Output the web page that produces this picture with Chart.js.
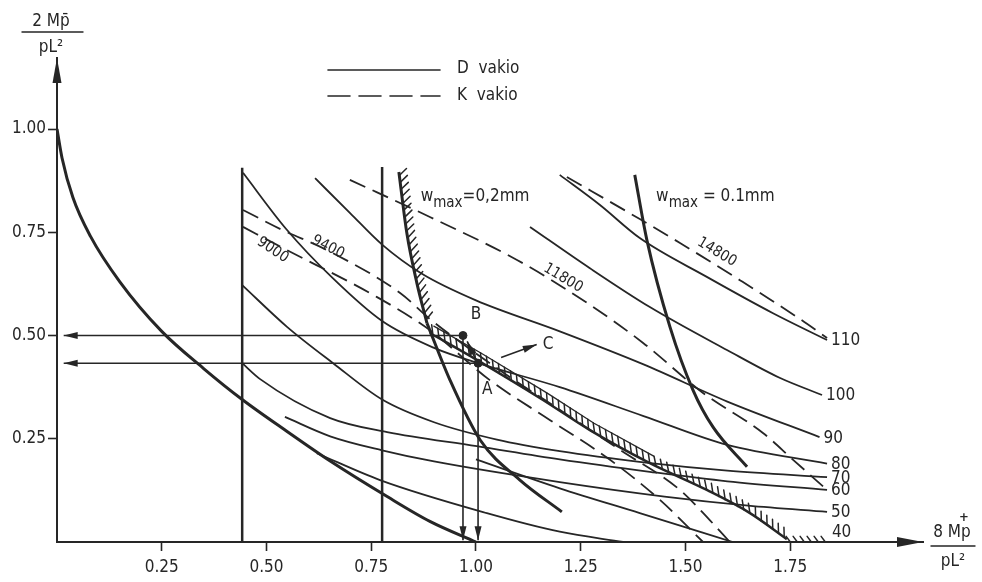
<!DOCTYPE html>
<html>
<head>
<meta charset="utf-8">
<script src="https://cdn.jsdelivr.net/npm/chart.js@4.4.1/dist/chart.umd.min.js"></script>
<style>
  html, body { margin: 0; padding: 0; background: #fff; }
</style>
</head>
<body>
<canvas id="chart" width="982" height="582"></canvas>
<script>
// ---- values (x = 8Mp+/pL2, y = 2Mp-/pL2) ----
const xTicks = [0.25, 0.50, 0.75, 1.00, 1.25, 1.50, 1.75];
const yTicks = [0.25, 0.50, 0.75, 1.00];

// heavy limit curve from 1.00 on the y axis to 1.00 on the x axis
const baseCurve = [[0, 1.0], [0.012, 0.93], [0.038, 0.834], [0.08, 0.74], [0.15, 0.63], [0.25, 0.51],
  [0.35, 0.42], [0.442, 0.345], [0.55, 0.267], [0.652, 0.196], [0.788, 0.11], [0.89, 0.05], [1.0, 0]];

// vertical limits
const limitLeft = [[0.442, 0], [0.442, 0.906]];
const limitRight = [[0.776, 0], [0.776, 0.908]];

// crack width limits
const w02Upper = [[0.816, 0.896], [0.835, 0.748], [0.859, 0.627], [0.883, 0.53]];
const w02Lower = [[0.883, 0.53], [0.938, 0.392], [1.01, 0.247], [1.105, 0.15], [1.205, 0.073]];
const w01 = [[1.379, 0.889], [1.408, 0.731], [1.463, 0.521], [1.518, 0.368], [1.566, 0.278], [1.647, 0.182]];

// hatched feasible band
const band = [[0.89, 0.506], [1.002, 0.441], [1.16, 0.344], [1.272, 0.271], [1.415, 0.191], [1.551, 0.126],
  [1.654, 0.07], [1.742, 0.007]];
const axisBand = [[1.742, 0.0], [1.84, 0.0]];

// D vakio (solid)
const d110 = [[1.2, 0.889], [1.296, 0.816], [1.391, 0.736], [1.551, 0.642], [1.709, 0.554], [1.838, 0.489]];
const d100 = [[1.129, 0.763], [1.272, 0.663], [1.415, 0.569], [1.599, 0.465], [1.726, 0.397], [1.826, 0.356]];
const d90 = [[0.616, 0.881], [0.699, 0.797], [0.776, 0.72], [0.87, 0.65], [1.0, 0.585], [1.2, 0.51],
  [1.4, 0.43], [1.6, 0.34], [1.82, 0.254]];
const d80 = [[0.444, 0.894], [0.547, 0.758], [0.657, 0.64], [0.776, 0.535], [0.9, 0.47], [1.005, 0.433],
  [1.2, 0.375], [1.4, 0.305], [1.6, 0.235], [1.838, 0.19]];
const d70 = [[0.442, 0.622], [0.549, 0.521], [0.659, 0.433], [0.776, 0.345], [0.9, 0.29], [1.05, 0.248],
  [1.2, 0.22], [1.4, 0.193], [1.6, 0.173], [1.838, 0.157]];
const d60 = [[0.442, 0.433], [0.484, 0.395], [0.652, 0.3], [0.788, 0.266], [1.002, 0.232], [1.2, 0.2],
  [1.415, 0.17], [1.6, 0.147], [1.838, 0.126]];
const d50 = [[0.544, 0.303], [0.652, 0.256], [0.776, 0.222], [0.9, 0.195], [1.2, 0.145], [1.45, 0.11],
  [1.65, 0.088], [1.838, 0.073]];
const dLow1 = [[0.62, 0.215], [0.771, 0.15], [1.026, 0.07], [1.2, 0.025], [1.351, 0]];
const dLow2 = [[1.0, 0.20], [1.2, 0.13], [1.391, 0.07], [1.613, 0]];
const dLabels = ['110', '100', '90', '80', '70', '60', '50'];

// K vakio (dashed)
const k9000 = [[0.444, 0.763], [0.539, 0.712], [0.764, 0.593], [0.89, 0.513], [1.033, 0.392], [1.177, 0.295],
  [1.32, 0.199], [1.439, 0.102], [1.542, 0]];
const k9400 = [[0.444, 0.804], [0.539, 0.755], [0.644, 0.707], [0.819, 0.603], [0.89, 0.54], [1.057, 0.416],
  [1.2, 0.32], [1.344, 0.223], [1.487, 0.126], [1.558, 0.053], [1.606, 0]];
const k11800 = [[0.699, 0.877], [0.89, 0.787], [1.098, 0.683], [1.265, 0.579], [1.399, 0.482], [1.542, 0.361],
  [1.685, 0.264], [1.757, 0.199], [1.838, 0.126]];
const k14800 = [[1.217, 0.884], [1.391, 0.782], [1.487, 0.724], [1.63, 0.634], [1.766, 0.545], [1.838, 0.494]];
const kLabels = ['9000', '9400', '11800', '14800'];

// design points
const pointB = [0.969, 0.50];
const pointA = [1.005, 0.433];

// ---- drawing ----
const ink = '#262626';
const font = '"Liberation Sans Narrow", "DejaVu Sans Condensed", sans-serif';

function curve(pts, width, extra) {
  return Object.assign({
    data: pts.map(([x, y]) => ({ x, y })),
    showLine: true,
    borderColor: ink,
    backgroundColor: ink,
    borderWidth: width,
    pointRadius: 0,
    cubicInterpolationMode: 'monotone',
    fill: false
  }, extra || {});
}
function straight(pts, width, extra) {
  return curve(pts, width, Object.assign({ cubicInterpolationMode: 'default', tension: 0 }, extra || {}));
}
const dash = [17, 8];

const datasets = [
  curve(baseCurve, 3),
  straight(limitLeft, 2.5),
  straight(limitRight, 2.5),
  curve(w02Upper, 3, { hatch: { len: 10, step: 7 } }),
  curve(w02Lower, 3),
  curve(w01, 3),
  curve(band, 2.5, { hatch: { len: 10, step: 7, edgeTo: 1.415 } }),
  straight(axisBand, 1.5, { hatch: { len: 7, step: 7 } }),
  curve(d110, 1.8, { dLabel: 0 }),
  curve(d100, 1.8, { dLabel: 1 }),
  curve(d90, 1.8, { dLabel: 2 }),
  curve(d80, 1.8, { dLabel: 3 }),
  curve(d70, 1.8, { dLabel: 4 }),
  curve(d60, 1.8, { dLabel: 5 }),
  curve(d50, 1.8, { dLabel: 6 }),
  curve(dLow1, 1.8),
  curve(dLow2, 1.8),
  curve(k9000, 1.8, { borderDash: dash }),
  curve(k9400, 1.8, { borderDash: dash }),
  curve(k11800, 1.8, { borderDash: dash }),
  curve(k14800, 1.8, { borderDash: dash }),
  // reading arrows
  straight([pointB, [0.016, 0.50]], 1.6, { arrow: true }),
  straight([pointA, [0.016, pointA[1]]], 1.6, { arrow: true }),
  straight([pointB, [pointB[0], 0.004]], 1.6, { arrow: true }),
  straight([pointA, [pointA[0], 0.004]], 1.6, { arrow: true }),
  straight([[1.06, 0.447], [1.145, 0.478]], 1.6, { arrow: true }),
  straight([[0.998, 0.445], [0.979, 0.486]], 1.6, { arrow: true }),
  {
    data: [pointB, pointA].map(([x, y]) => ({ x, y })),
    pointRadius: 4, pointBackgroundColor: ink, pointBorderColor: ink, showLine: false
  }
];

function arrowHead(ctx, x1, y1, x2, y2, len, half) {
  const a = Math.atan2(y2 - y1, x2 - x1);
  ctx.beginPath();
  ctx.moveTo(x2, y2);
  ctx.lineTo(x2 - len * Math.cos(a) + half * Math.sin(a), y2 - len * Math.sin(a) - half * Math.cos(a));
  ctx.lineTo(x2 - len * Math.cos(a) - half * Math.sin(a), y2 - len * Math.sin(a) + half * Math.cos(a));
  ctx.closePath();
  ctx.fill();
}

function drawHatch(ctx, pts, len, step) {
  let carry = step / 2;
  ctx.beginPath();
  for (let i = 1; i < pts.length; i++) {
    const x0 = pts[i - 1].x, y0 = pts[i - 1].y;
    const dx = pts[i].x - x0, dy = pts[i].y - y0;
    const L = Math.hypot(dx, dy);
    if (!L) continue;
    const ux = dx / L, uy = dy / L;
    // hatch on the right-hand / upper side, slanted backwards
    const nx = uy * 0.8 - ux * 0.6, ny = -ux * 0.8 - uy * 0.6;
    let t = carry;
    while (t <= L) {
      const px = x0 + ux * t, py = y0 + uy * t;
      ctx.moveTo(px, py);
      ctx.lineTo(px + nx * len, py + ny * len);
      t += step;
    }
    carry = t - L;
  }
  ctx.stroke();
}

// thin edge line along the outer ends of the hatch
function drawEdge(ctx, pts, off) {
  ctx.beginPath();
  for (let i = 0; i < pts.length; i++) {
    const p = pts[Math.max(i - 1, 0)], q = pts[Math.min(i + 1, pts.length - 1)];
    const L = Math.hypot(q.x - p.x, q.y - p.y) || 1;
    const ux = (q.x - p.x) / L, uy = (q.y - p.y) / L;
    const ex = pts[i].x + uy * off, ey = pts[i].y - ux * off;
    if (i === 0) ctx.moveTo(ex, ey); else ctx.lineTo(ex, ey);
  }
  ctx.stroke();
}

function sub(ctx, x, y, parts) {
  let cx = x;
  parts.forEach(([t, size, dy]) => {
    ctx.font = size + 'px ' + font;
    ctx.fillText(t, cx, y + dy);
    cx += ctx.measureText(t).width;
  });
}

const decor = {
  id: 'decor',
  afterDatasetsDraw(chart) {
    const { ctx, chartArea: a, scales: { x, y } } = chart;
    const X = v => x.getPixelForValue(v), Y = v => y.getPixelForValue(v);
    ctx.save();
    ctx.strokeStyle = ink;
    ctx.fillStyle = ink;
    ctx.lineCap = 'round';

    chart.data.datasets.forEach((ds, i) => {
      const pts = chart.getDatasetMeta(i).data;
      if (ds.hatch) {
        ctx.lineWidth = 1.5;
        drawHatch(ctx, pts, ds.hatch.len, ds.hatch.step);
        if (ds.hatch.edgeTo) {
          const edgePts = pts.filter((p, k) => ds.data[k].x <= ds.hatch.edgeTo);
          ctx.lineWidth = 1.3;
          drawEdge(ctx, edgePts, ds.hatch.len * 0.8);
        }
      }
      if (ds.arrow) {
        const p = pts[pts.length - 2], q = pts[pts.length - 1];
        arrowHead(ctx, p.x, p.y, q.x, q.y, 14, 3.5);
      }
      if (ds.dLabel !== undefined) {
        const q = pts[pts.length - 1];
        ctx.font = '17px ' + font;
        ctx.textAlign = 'left';
        ctx.textBaseline = 'middle';
        ctx.fillText(dLabels[ds.dLabel], q.x + 4, q.y + 1);
      }
    });
    const end = chart.getDatasetMeta(7).data[1];
    ctx.font = '17px ' + font;
    ctx.textBaseline = 'middle';
    ctx.fillText('40', end.x + 4, end.y - 9);

    // axis arrows
    arrowHead(ctx, a.left, a.top + 30, a.left, a.top, 25, 4.5);
    arrowHead(ctx, a.right - 30, a.bottom, a.right, a.bottom, 26, 5);

    // K labels along dashed curves
    const kAt = [[0.515, 0.707, 34], [0.647, 0.714, 27], [1.208, 0.639, 31], [1.575, 0.702, 31]];
    ctx.font = '15px ' + font;
    ctx.textAlign = 'center';
    ctx.textBaseline = 'middle';
    kLabels.forEach((t, i) => {
      const [vx, vy, deg] = kAt[i];
      ctx.save();
      ctx.translate(X(vx), Y(vy));
      ctx.rotate(deg * Math.PI / 180);
      ctx.fillText(t, 0, 0);
      ctx.restore();
    });

    // point names
    ctx.font = '17px ' + font;
    ctx.fillText('B', X(1.0), Y(0.55));
    ctx.fillText('A', X(1.027), Y(0.37));
    ctx.fillText('C', X(1.172), Y(0.477));

    // crack width captions
    ctx.textAlign = 'left';
    ctx.textBaseline = 'alphabetic';
    sub(ctx, X(0.868), Y(0.825), [['w', 17, 0], ['max', 15, 6], ['=0,2mm', 17, 0]]);
    sub(ctx, X(1.43), Y(0.825), [['w', 17, 0], ['max', 15, 6], [' = 0.1mm', 17, 0]]);

    // legend
    ctx.lineWidth = 1.6;
    ctx.beginPath();
    ctx.moveTo(328, 70); ctx.lineTo(440, 70);
    ctx.stroke();
    ctx.setLineDash([22, 9]);
    ctx.beginPath();
    ctx.moveTo(328, 96); ctx.lineTo(440, 96);
    ctx.stroke();
    ctx.setLineDash([]);
    ctx.font = '17px ' + font;
    ctx.textBaseline = 'middle';
    ctx.fillText('D  vakio', 457, 69);
    ctx.fillText('K  vakio', 457, 96);

    // axis titles
    ctx.textAlign = 'center';
    ctx.fillText('2 Mp\u0304', 51, 22);
    ctx.fillText('pL\u00b2', 51, 48);
    ctx.lineWidth = 1.4;
    ctx.beginPath();
    ctx.moveTo(22, 32); ctx.lineTo(83, 32);
    ctx.moveTo(931, 546); ctx.lineTo(975, 546);
    ctx.stroke();
    ctx.fillText('8 Mp', 952, 533);
    ctx.font = 'bold 13px ' + font;
    ctx.fillText('+', 964, 518);
    ctx.font = '17px ' + font;
    ctx.fillText('pL\u00b2', 953, 562);
    ctx.restore();
  }
};

new Chart(document.getElementById('chart'), {
  type: 'scatter',
  data: { datasets },
  options: {
    responsive: false,
    animation: false,
    layout: { padding: { top: 58, right: 59, left: 0, bottom: 0 } },
    plugins: { legend: { display: false }, tooltip: { enabled: false } },
    scales: {
      x: {
        type: 'linear', min: 0, max: 2.067,
        afterFit: s => { s.height = 40; },
        afterBuildTicks: s => { s.ticks = xTicks.map(value => ({ value })); },
        border: { display: true, color: ink, width: 2 },
        grid: { drawOnChartArea: false, drawTicks: true, tickLength: 9, tickColor: ink, tickWidth: 1.6 },
        ticks: { color: ink, padding: 6, font: { family: font, size: 17 }, callback: v => v.toFixed(2) }
      },
      y: {
        type: 'linear', min: 0, max: 1.172,
        afterFit: s => { s.width = 57; },
        afterBuildTicks: s => { s.ticks = yTicks.map(value => ({ value })); },
        border: { display: true, color: ink, width: 2 },
        grid: { drawOnChartArea: false, drawTicks: true, tickLength: 9, tickColor: ink, tickWidth: 1.6 },
        ticks: { color: ink, padding: 2, font: { family: font, size: 17 }, callback: v => v.toFixed(2) }
      }
    }
  },
  plugins: [decor]
});
</script>
</body>
</html>
